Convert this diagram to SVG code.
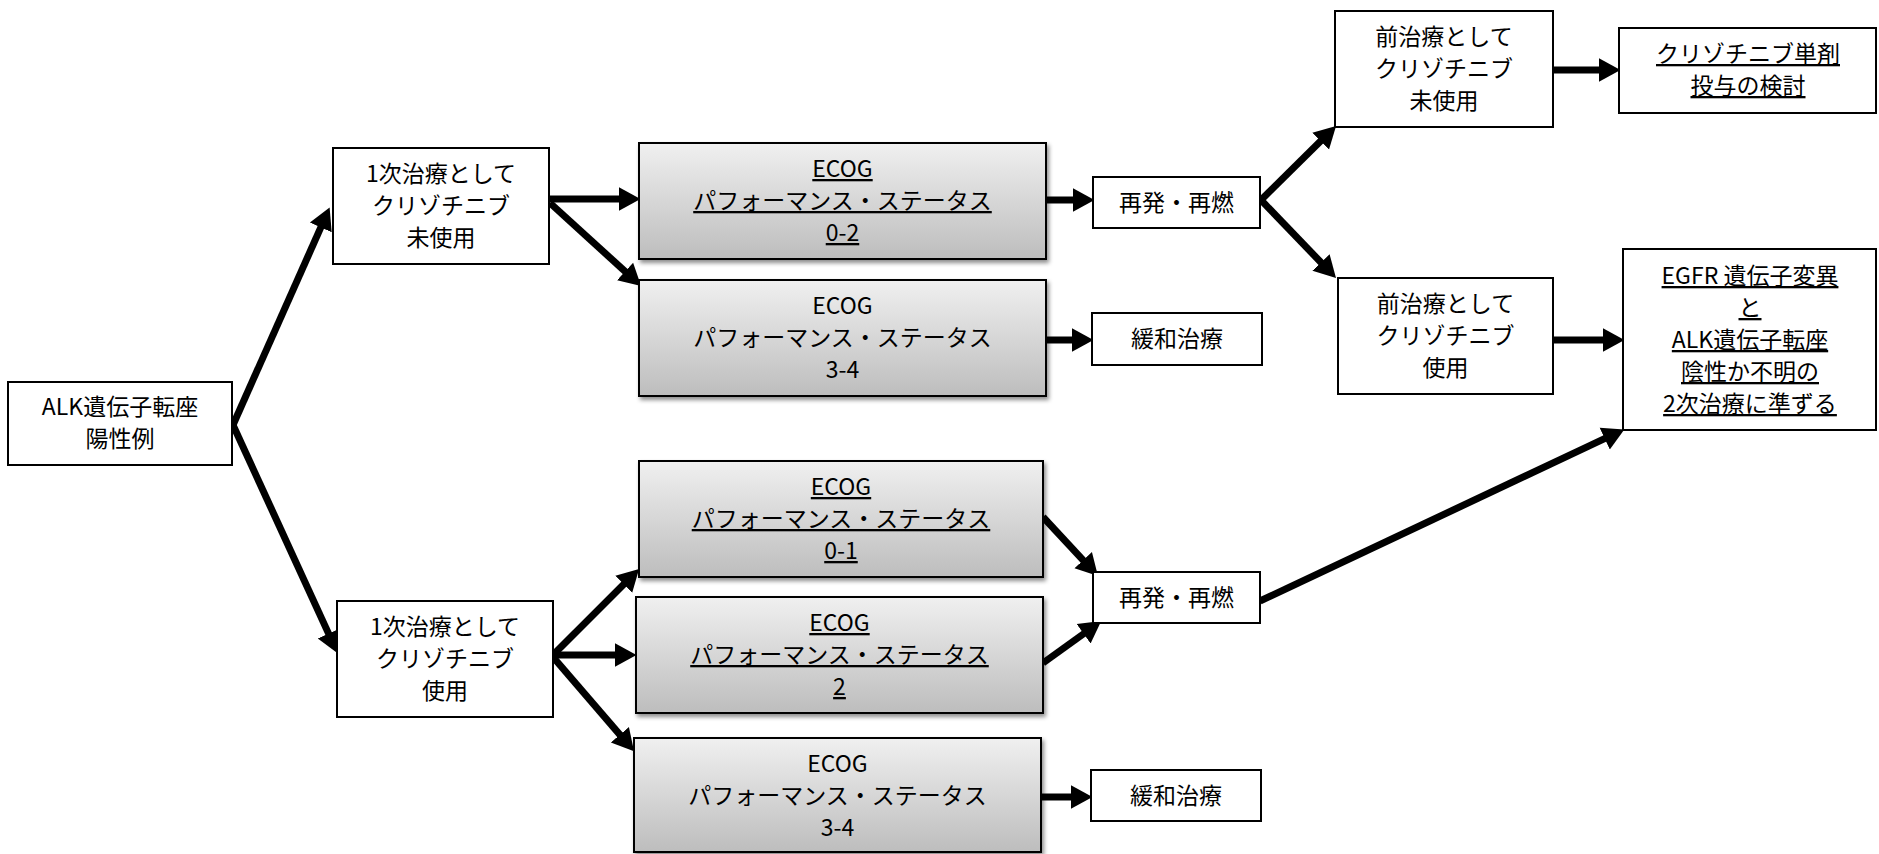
<svg xmlns="http://www.w3.org/2000/svg" width="1879" height="854" viewBox="0 0 1879 854">
<defs>
<linearGradient id="gray" x1="0" y1="0" x2="0" y2="1">
<stop offset="0" stop-color="#f0f0f0"/>
<stop offset="1" stop-color="#bdbdbd"/>
</linearGradient>
<filter id="shadow" x="-5%" y="-10%" width="115%" height="130%">
<feDropShadow dx="2" dy="3" stdDeviation="2" flood-color="#000" flood-opacity="0.45"/>
</filter>
<marker id="ah" markerUnits="userSpaceOnUse" markerWidth="24" markerHeight="26" viewBox="0 -12 22 24" refX="2" refY="0" orient="auto">
<path d="M0,-11 L20,0 L0,11 Z" fill="#000"/>
</marker>
</defs>
<style>
.box{fill:#fff;stroke:#000;stroke-width:2}
.gbox{fill:url(#gray);stroke:#000;stroke-width:2;filter:url(#shadow)}
.t{font-family:"Noto Sans CJK JP","Noto Sans",sans-serif;font-size:23px;fill:#000;text-anchor:middle}
.u{text-decoration:underline}
.c{stroke:#000;stroke-width:7;fill:none;marker-end:url(#ah)}
</style>
<rect width="1879" height="854" fill="#fff"/>

<g id="connectors">
<line class="c" x1="233" y1="425" x2="321.7" y2="225.4"/>
<line class="c" x1="233" y1="425" x2="329.5" y2="635.6"/>
<line class="c" x1="550" y1="199" x2="621" y2="199"/>
<line class="c" x1="550" y1="203" x2="626.7" y2="272.9"/>
<line class="c" x1="1046" y1="200" x2="1075" y2="200"/>
<line class="c" x1="1046" y1="340" x2="1074" y2="340"/>
<line class="c" x1="1261" y1="200" x2="1322.2" y2="139.6"/>
<line class="c" x1="1261" y1="200" x2="1322.5" y2="264"/>
<line class="c" x1="1553" y1="70" x2="1601" y2="70"/>
<line class="c" x1="1553" y1="340" x2="1605" y2="340"/>
<line class="c" x1="553" y1="655" x2="625.3" y2="582.7"/>
<line class="c" x1="553" y1="655" x2="617" y2="655"/>
<line class="c" x1="553" y1="657" x2="621.3" y2="736.4"/>
<line class="c" x1="1043" y1="517" x2="1084.7" y2="561.8"/>
<line class="c" x1="1043" y1="663" x2="1085.4" y2="632.5"/>
<line class="c" x1="1260" y1="601" x2="1606.7" y2="437.7"/>
<line class="c" x1="1041" y1="797" x2="1073" y2="797"/>
</g>

<g id="alk">
<rect class="box" x="8" y="382" width="224" height="83"/>
<text class="t" x="120" y="415">ALK遺伝子転座</text>
<text class="t" x="120" y="447">陽性例</text>
</g>

<g id="first_unused">
<rect class="box" x="333" y="148" width="216" height="116"/>
<text class="t" x="441" y="182">1次治療として</text>
<text class="t" x="441" y="214">クリゾチニブ</text>
<text class="t" x="441" y="246">未使用</text>
</g>

<g id="ecog02">
<rect class="gbox" x="639" y="143" width="407" height="116"/>
<text class="t u" x="842.5" y="177">ECOG</text>
<text class="t u" x="842.5" y="209">パフォーマンス・ステータス</text>
<text class="t u" x="842.5" y="241">0-2</text>
</g>

<g id="ecog34a">
<rect class="gbox" x="639" y="280" width="407" height="116"/>
<text class="t" x="842.5" y="314">ECOG</text>
<text class="t" x="842.5" y="346">パフォーマンス・ステータス</text>
<text class="t" x="842.5" y="378">3-4</text>
</g>

<g id="relapse_a">
<rect class="box" x="1093" y="177" width="167" height="51"/>
<text class="t" x="1176.5" y="211">再発・再燃</text>
</g>

<g id="palliative_a">
<rect class="box" x="1092" y="313" width="170" height="52"/>
<text class="t" x="1177" y="347">緩和治療</text>
</g>

<g id="pre_unused">
<rect class="box" x="1335" y="11" width="218" height="116"/>
<text class="t" x="1444" y="45">前治療として</text>
<text class="t" x="1444" y="77">クリゾチニブ</text>
<text class="t" x="1444" y="109">未使用</text>
</g>

<g id="crizo_mono">
<rect class="box" x="1619" y="28" width="257" height="85"/>
<text class="t u" x="1748" y="62">クリゾチニブ単剤</text>
<text class="t u" x="1748" y="94">投与の検討</text>
</g>

<g id="pre_used">
<rect class="box" x="1338" y="278" width="215" height="116"/>
<text class="t" x="1445.5" y="312">前治療として</text>
<text class="t" x="1445.5" y="344">クリゾチニブ</text>
<text class="t" x="1445.5" y="376">使用</text>
</g>

<g id="egfr">
<rect class="box" x="1623" y="249" width="253" height="181"/>
<text class="t u" x="1750" y="284">EGFR 遺伝子変異</text>
<text class="t u" x="1750" y="316">と</text>
<text class="t u" x="1750" y="348">ALK遺伝子転座</text>
<text class="t u" x="1750" y="380">陰性か不明の</text>
<text class="t u" x="1750" y="412">2次治療に準ずる</text>
</g>

<g id="first_used">
<rect class="box" x="337" y="601" width="216" height="116"/>
<text class="t" x="445" y="635">1次治療として</text>
<text class="t" x="445" y="667">クリゾチニブ</text>
<text class="t" x="445" y="699">使用</text>
</g>

<g id="ecog01">
<rect class="gbox" x="639" y="461" width="404" height="116"/>
<text class="t u" x="841" y="495">ECOG</text>
<text class="t u" x="841" y="527">パフォーマンス・ステータス</text>
<text class="t u" x="841" y="559">0-1</text>
</g>

<g id="ecog2">
<rect class="gbox" x="636" y="597" width="407" height="116"/>
<text class="t u" x="839.5" y="631">ECOG</text>
<text class="t u" x="839.5" y="663">パフォーマンス・ステータス</text>
<text class="t u" x="839.5" y="695">2</text>
</g>

<g id="ecog34b">
<rect class="gbox" x="634" y="738" width="407" height="114"/>
<text class="t" x="837.5" y="772">ECOG</text>
<text class="t" x="837.5" y="804">パフォーマンス・ステータス</text>
<text class="t" x="837.5" y="836">3-4</text>
</g>

<g id="relapse_b">
<rect class="box" x="1093" y="572" width="167" height="51"/>
<text class="t" x="1176.5" y="606">再発・再燃</text>
</g>

<g id="palliative_b">
<rect class="box" x="1091" y="770" width="170" height="51"/>
<text class="t" x="1176" y="804">緩和治療</text>
</g>
</svg>
